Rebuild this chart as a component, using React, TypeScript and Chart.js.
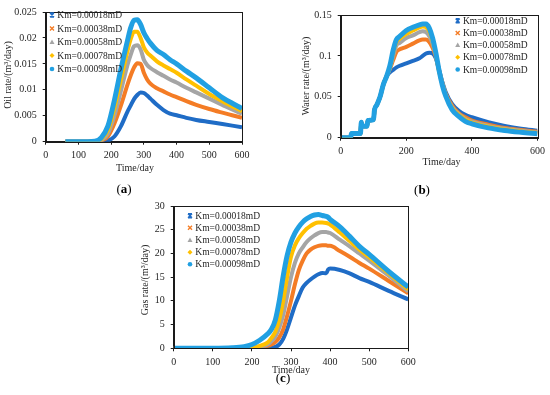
import React, { useEffect, useRef } from "react";
import { Chart, registerables } from "chart.js";

Chart.register(...registerables);

const SERIES_LABELS = ["Km=0.00018mD", "Km=0.00038mD", "Km=0.00058mD", "Km=0.00078mD", "Km=0.00098mD"];
const SERIES_COLORS = ["#1F6CC6", "#F47C25", "#A5A5A5", "#FFC000", "#21A0E2"];
const SERIES_MARKERS = ["star", "crossRot", "triangle", "rectRot", "circle"];

// (a) Oil rate
const oilDays = [60, 100, 150, 170, 190, 210, 230, 250, 260, 270, 280, 290, 300, 310, 320, 340, 360, 380, 400, 430, 460, 500, 540, 570, 600];
const oilKm018 = [0, 0, 0, 0, 0.0002, 0.001, 0.003, 0.0058, 0.007, 0.0082, 0.009, 0.0095, 0.0094, 0.0089, 0.0083, 0.0071, 0.0061, 0.0054, 0.0051, 0.0046, 0.0042, 0.0038, 0.0034, 0.0031, 0.0028];
const oilKm038 = [0, 0, 0, 0.0002, 0.001, 0.0035, 0.007, 0.011, 0.0128, 0.0143, 0.0151, 0.015, 0.0133, 0.012, 0.0112, 0.0103, 0.0097, 0.0091, 0.0086, 0.0078, 0.0071, 0.0063, 0.0056, 0.0051, 0.0046];
const oilKm058 = [0, 0, 0, 0.0003, 0.0015, 0.005, 0.0098, 0.0148, 0.0168, 0.0184, 0.0186, 0.0178, 0.0158, 0.0148, 0.0142, 0.0134, 0.0127, 0.012, 0.0114, 0.0104, 0.0095, 0.0083, 0.0071, 0.0062, 0.0054];
const oilKm078 = [0, 0, 0.0001, 0.0005, 0.0022, 0.0065, 0.012, 0.0175, 0.0198, 0.0212, 0.0212, 0.02, 0.0182, 0.0172, 0.0166, 0.0155, 0.0147, 0.014, 0.0133, 0.012, 0.0108, 0.0092, 0.0078, 0.0068, 0.0059];
const oilKm098 = [0, 0, 0.0001, 0.0008, 0.003, 0.008, 0.014, 0.0195, 0.022, 0.0234, 0.0235, 0.0226, 0.021, 0.0199, 0.019, 0.0176, 0.0168, 0.0158, 0.015, 0.0136, 0.0123, 0.0104, 0.0085, 0.0074, 0.0064];
const oilXTicks = [0, 100, 200, 300, 400, 500, 600];
const oilYTicks = [0, 0.005, 0.01, 0.015, 0.02, 0.025];

// (b) Water rate
const waterDays = [0, 30, 33, 60, 63, 65, 80, 83, 100, 103, 110, 120, 130, 140, 150, 160, 170, 180, 200, 220, 240, 250, 260, 270, 280, 290, 300, 310, 320, 340, 360, 380, 400, 450, 500, 550, 600];
const waterKm018 = [0, 0, 0.005, 0.005, 0.019, 0.014, 0.014, 0.021, 0.022, 0.034, 0.04, 0.05, 0.065, 0.075, 0.08, 0.083, 0.086, 0.088, 0.091, 0.094, 0.097, 0.1, 0.103, 0.104, 0.103, 0.097, 0.083, 0.068, 0.056, 0.041, 0.033, 0.028, 0.025, 0.019, 0.0145, 0.011, 0.0085];
const waterKm038 = [0, 0, 0.005, 0.005, 0.019, 0.014, 0.014, 0.021, 0.022, 0.034, 0.04, 0.05, 0.065, 0.075, 0.084, 0.095, 0.105, 0.108, 0.111, 0.115, 0.119, 0.12, 0.12, 0.117, 0.11, 0.099, 0.082, 0.067, 0.054, 0.039, 0.03, 0.025, 0.021, 0.016, 0.012, 0.0095, 0.0072];
const waterKm058 = [0, 0, 0.005, 0.005, 0.019, 0.014, 0.014, 0.021, 0.022, 0.034, 0.04, 0.05, 0.065, 0.075, 0.085, 0.1, 0.113, 0.116, 0.122, 0.125, 0.129, 0.13, 0.129, 0.124, 0.115, 0.101, 0.082, 0.066, 0.053, 0.037, 0.029, 0.023, 0.0195, 0.0145, 0.011, 0.0085, 0.0064];
const waterKm078 = [0, 0, 0.005, 0.005, 0.019, 0.014, 0.014, 0.021, 0.022, 0.034, 0.04, 0.05, 0.065, 0.075, 0.086, 0.104, 0.117, 0.121, 0.127, 0.131, 0.135, 0.136, 0.135, 0.13, 0.119, 0.102, 0.081, 0.065, 0.052, 0.036, 0.028, 0.022, 0.0185, 0.0135, 0.01, 0.0077, 0.0057];
const waterKm098 = [0, 0, 0.005, 0.005, 0.019, 0.014, 0.014, 0.021, 0.022, 0.034, 0.04, 0.05, 0.065, 0.075, 0.088, 0.107, 0.12, 0.124, 0.131, 0.135, 0.138, 0.139, 0.139, 0.134, 0.122, 0.104, 0.082, 0.064, 0.051, 0.034, 0.026, 0.02, 0.017, 0.012, 0.0088, 0.0066, 0.0048];
const waterXTicks = [0, 200, 400, 600];
const waterYTicks = [0, 0.05, 0.1, 0.15];

// (c) Gas rate
const gasDays = [0, 100, 150, 180, 200, 220, 240, 250, 260, 270, 280, 290, 300, 310, 320, 330, 340, 350, 360, 370, 380, 390, 395, 400, 425, 450, 475, 500, 550, 600];
const gasKm018 = [0, 0, 0, 0, 0, 0.05, 0.1, 0.2, 0.3, 0.8, 2.0, 4.0, 6.5, 9.0, 11.0, 12.8, 13.8, 14.5, 15.1, 15.6, 15.9, 15.8, 16.6, 16.8, 16.5, 15.8, 14.8, 14.0, 12.1, 10.3];
const gasKm038 = [0, 0, 0, 0.05, 0.1, 0.25, 0.5, 0.8, 1.3, 2.3, 4.0, 6.8, 10.0, 13.5, 16.5, 18.5, 20.0, 20.8, 21.3, 21.6, 21.7, 21.7, 21.6, 21.6, 20.5, 19.3, 18.0, 16.8, 14.2, 11.6];
const gasKm058 = [0, 0, 0, 0.08, 0.15, 0.35, 0.8, 1.5, 2.5, 4.3, 7.0, 11.0, 15.0, 18.0, 20.0, 21.3, 22.4, 23.2, 23.8, 24.3, 24.5, 24.5, 24.4, 24.3, 22.9, 21.5, 20.0, 18.5, 15.3, 12.0];
const gasKm078 = [0, 0, 0.02, 0.1, 0.2, 0.5, 1.2, 2.2, 3.5, 6.0, 10.0, 15.0, 19.3, 21.7, 23.2, 24.3, 25.2, 25.8, 26.3, 26.5, 26.5, 26.4, 26.3, 26.1, 24.4, 22.6, 20.8, 19.2, 15.8, 12.4];
const gasKm098 = [0, 0, 0.1, 0.35, 0.8, 1.7, 3.0, 4.0, 6.0, 10.0, 15.2, 19.5, 22.4, 24.3, 25.6, 26.6, 27.3, 27.8, 28.1, 28.2, 28.0, 27.8, 27.6, 27.2, 25.6, 23.6, 21.5, 19.8, 16.2, 12.9];
const gasXTicks = [0, 100, 200, 300, 400, 500, 600];
const gasYTicks = [0, 5, 10, 15, 20, 25, 30];

const FONT = '"Liberation Serif", "Times New Roman", serif';
const TEXT_COLOR = "#262626";
const W = 550;
const H = 395;

type Spec = {
  days: number[];
  series: number[][];
  xTicks: number[];
  yTicks: number[];
  area: { l: number; t: number; r: number; b: number };
  xTitle: { text: string; x: number; y: number };
  yTitle: { text: string; x: number; y: number };
  tag: { text: string; x: number; y: number };
  legend: { x: number; y: number; dy: number };
};

const specA: Spec = {
  days: oilDays,
  series: [oilKm018, oilKm038, oilKm058, oilKm078, oilKm098],
  xTicks: oilXTicks,
  yTicks: oilYTicks,
  area: { l: 45.7, t: 6.7, r: 242, b: 141.7 },
  xTitle: { text: "Time/day", x: 135, y: 168 },
  yTitle: { text: "Oil rate/(m³/day)", x: 8, y: 75 },
  tag: { text: "a", x: 124, y: 190 },
  legend: { x: 52, y: 15, dy: 13.5 },
};

const specB: Spec = {
  days: waterDays,
  series: [waterKm018, waterKm038, waterKm058, waterKm078, waterKm098],
  xTicks: waterXTicks,
  yTicks: waterYTicks,
  area: { l: 340.7, t: 15, r: 541.5, b: 137.7 },
  xTitle: { text: "Time/day", x: 441.5, y: 162.3 },
  yTitle: { text: "Water rate/(m³/day)", x: 306.7, y: 76 },
  tag: { text: "b", x: 422, y: 190.7 },
  legend: { x: 457.7, y: 20.7, dy: 12.2 },
};

const specC: Spec = {
  days: gasDays,
  series: [gasKm018, gasKm038, gasKm058, gasKm078, gasKm098],
  xTicks: gasXTicks,
  yTicks: gasYTicks,
  area: { l: 173.7, t: 206, r: 408.3, b: 348.3 },
  xTitle: { text: "Time/day", x: 291, y: 370.5 },
  yTitle: { text: "Gas rate/(m³/day)", x: 145, y: 280 },
  tag: { text: "c", x: 283, y: 378.5 },
  legend: { x: 190, y: 215.7, dy: 12.15 },
};

function drawMarker(ctx: CanvasRenderingContext2D, style: string, x: number, y: number, r: number, color: string) {
  ctx.save();
  ctx.strokeStyle = color;
  ctx.fillStyle = color;
  ctx.lineWidth = 1.4;
  ctx.beginPath();
  if (style === "star") {
    ctx.moveTo(x - r, y - r); ctx.lineTo(x + r, y + r);
    ctx.moveTo(x + r, y - r); ctx.lineTo(x - r, y + r);
    ctx.moveTo(x - r, y - r); ctx.lineTo(x + r, y - r);
    ctx.moveTo(x - r, y + r); ctx.lineTo(x + r, y + r);
    ctx.stroke();
  } else if (style === "crossRot") {
    ctx.moveTo(x - r, y - r); ctx.lineTo(x + r, y + r);
    ctx.moveTo(x + r, y - r); ctx.lineTo(x - r, y + r);
    ctx.stroke();
  } else if (style === "triangle") {
    ctx.moveTo(x, y - r - 0.5); ctx.lineTo(x + r + 0.5, y + r); ctx.lineTo(x - r - 0.5, y + r);
    ctx.closePath(); ctx.fill();
  } else if (style === "rectRot") {
    ctx.moveTo(x, y - r - 0.5); ctx.lineTo(x + r + 0.5, y); ctx.lineTo(x, y + r + 0.5); ctx.lineTo(x - r - 0.5, y);
    ctx.closePath(); ctx.fill();
  } else {
    ctx.arc(x, y, r + 0.3, 0, Math.PI * 2); ctx.fill();
  }
  ctx.restore();
}

function decorPlugin(spec: Spec) {
  return {
    id: "decor",
    afterDraw(chart: any) {
      const ctx: CanvasRenderingContext2D = chart.ctx;
      const a = chart.chartArea;
      ctx.save();
      // plot-area box
      ctx.strokeStyle = "#1a1a1a";
      ctx.lineWidth = 1;
      ctx.strokeRect(Math.round(a.left) + 0.5, Math.round(a.top) + 0.5, Math.round(a.right) - Math.round(a.left), Math.round(a.bottom) - Math.round(a.top));
      // legend
      ctx.font = `9.5px ${FONT}`;
      ctx.textBaseline = "middle";
      ctx.textAlign = "left";
      for (let i = 0; i < SERIES_LABELS.length; i++) {
        const y = spec.legend.y + i * spec.legend.dy;
        drawMarker(ctx, SERIES_MARKERS[i], spec.legend.x, y, 2, SERIES_COLORS[i]);
        ctx.fillStyle = TEXT_COLOR;
        ctx.fillText(SERIES_LABELS[i], spec.legend.x + 5.3, y + 0.5);
      }
      // axis titles
      ctx.font = `10px ${FONT}`;
      ctx.textAlign = "center";
      ctx.fillStyle = TEXT_COLOR;
      ctx.fillText(spec.xTitle.text, spec.xTitle.x, spec.xTitle.y);
      ctx.save();
      ctx.translate(spec.yTitle.x, spec.yTitle.y);
      ctx.rotate(-Math.PI / 2);
      ctx.fillText(spec.yTitle.text, 0, 0);
      ctx.restore();
      // sub-figure tag "(x)" with bold letter
      const fs = 13;
      ctx.fillStyle = "#000";
      ctx.font = `${fs}px ${FONT}`;
      const open = "(";
      const close = ")";
      const wOpen = ctx.measureText(open).width;
      const wClose = ctx.measureText(close).width;
      ctx.font = `bold ${fs}px ${FONT}`;
      const wTag = ctx.measureText(spec.tag.text).width;
      const total = wOpen + wTag + wClose;
      let x = spec.tag.x - total / 2;
      ctx.textAlign = "left";
      ctx.font = `${fs}px ${FONT}`;
      ctx.fillText(open, x, spec.tag.y);
      x += wOpen;
      ctx.font = `bold ${fs}px ${FONT}`;
      ctx.fillText(spec.tag.text, x, spec.tag.y);
      x += wTag;
      ctx.font = `${fs}px ${FONT}`;
      ctx.fillText(close, x, spec.tag.y);
      ctx.restore();
    },
  };
}

function fmt(v: number) {
  return String(Number(Number(v).toFixed(6)));
}

function makeChart(canvas: HTMLCanvasElement, spec: Spec) {
  const yW = 40;
  const xH = 30;
  const a = spec.area;
  const datasets = spec.series.map((vals, i) => ({
    label: SERIES_LABELS[i],
    data: spec.days.map((d, j) => ({ x: d, y: vals[j] })),
    borderColor: SERIES_COLORS[i],
    backgroundColor: SERIES_COLORS[i],
    borderWidth: i === 4 ? 5 : 4,
    pointRadius: 0,
    cubicInterpolationMode: "monotone" as const,
    order: 4 - i,
  }));
  const tickFont = { family: FONT, size: 10 };
  return new Chart(canvas, {
    type: "line",
    data: { datasets },
    plugins: [decorPlugin(spec)],
    options: {
      animation: false,
      responsive: false,
      devicePixelRatio: 1,
      layout: {
        padding: { left: a.l - yW, top: a.t, right: W - a.r, bottom: H - a.b - xH },
      },
      plugins: { legend: { display: false }, tooltip: { enabled: false }, title: { display: false } },
      scales: {
        x: {
          type: "linear",
          min: spec.xTicks[0],
          max: spec.xTicks[spec.xTicks.length - 1],
          afterBuildTicks: (s: any) => { s.ticks = spec.xTicks.map((v) => ({ value: v })); },
          afterFit: (s: any) => { s.height = xH; },
          grid: { drawOnChartArea: false, drawTicks: true, tickLength: 3, color: "#1a1a1a" },
          border: { display: true, color: "#1a1a1a", width: 1 },
          ticks: { font: tickFont, color: TEXT_COLOR, padding: 5, maxRotation: 0, autoSkip: false, callback: (v: any) => fmt(v) },
        },
        y: {
          type: "linear",
          min: spec.yTicks[0],
          max: spec.yTicks[spec.yTicks.length - 1],
          afterBuildTicks: (s: any) => { s.ticks = spec.yTicks.map((v) => ({ value: v })); },
          afterFit: (s: any) => { s.width = yW; },
          grid: { drawOnChartArea: false, drawTicks: true, tickLength: 3, color: "#1a1a1a" },
          border: { display: true, color: "#1a1a1a", width: 1 },
          ticks: { font: tickFont, color: TEXT_COLOR, padding: 6, autoSkip: false, callback: (v: any) => fmt(v) },
        },
      },
    },
  } as any);
}

export default function App() {
  const refA = useRef<HTMLCanvasElement>(null);
  const refB = useRef<HTMLCanvasElement>(null);
  const refC = useRef<HTMLCanvasElement>(null);

  useEffect(() => {
    const charts = [
      makeChart(refA.current as HTMLCanvasElement, specA),
      makeChart(refB.current as HTMLCanvasElement, specB),
      makeChart(refC.current as HTMLCanvasElement, specC),
    ];
    return () => charts.forEach((c) => c.destroy());
  }, []);

  const cs: React.CSSProperties = { position: "absolute", left: 0, top: 0, width: W, height: H };
  return (
    <div style={{ position: "absolute", left: 0, top: 0, width: W, height: H, background: "#fff" }}>
      <canvas ref={refA} width={W} height={H} style={cs} />
      <canvas ref={refB} width={W} height={H} style={cs} />
      <canvas ref={refC} width={W} height={H} style={cs} />
    </div>
  );
}
